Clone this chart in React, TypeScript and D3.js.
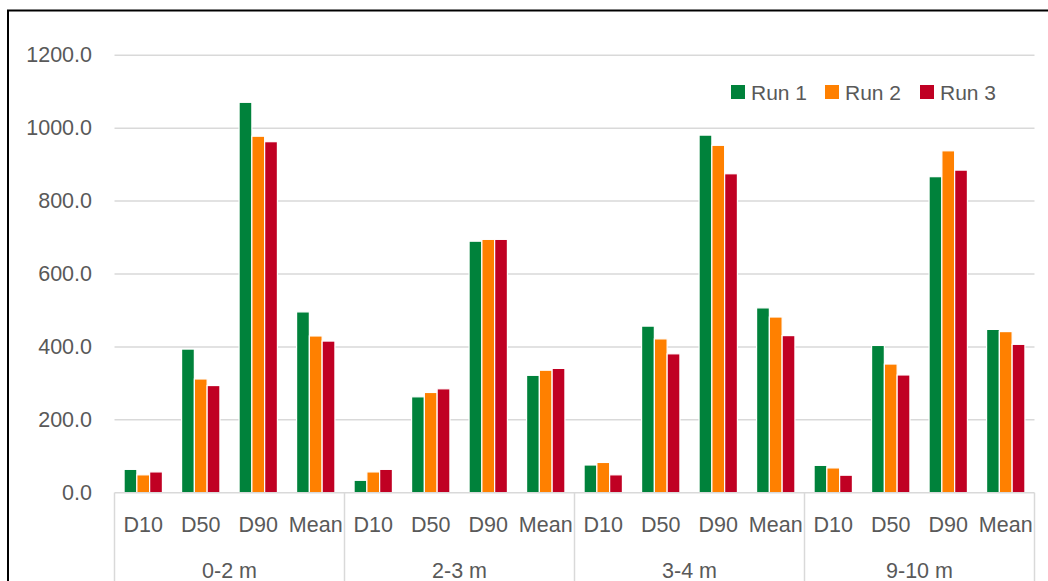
import React from "react";
import * as d3 from "d3";

// Particle size statistics per depth interval, three repeat runs
const depths = ["0-2 m", "2-3 m", "3-4 m", "9-10 m"];
const measures = ["D10", "D50", "D90", "Mean"];
const seriesNames = ["Run 1", "Run 2", "Run 3"];
const seriesColors = ["#00823b", "#ff8000", "#c00023"];

const run1 = [64, 394, 1071, 496, 34, 263, 690, 322, 76, 457, 981, 507, 75, 404, 867, 448];
const run2 = [49, 312, 978, 430, 57, 275, 695, 336, 83, 422, 953, 482, 68, 353, 938, 442];
const run3 = [57, 294, 963, 416, 64, 285, 695, 341, 49, 381, 875, 431, 48, 323, 885, 407];
const runs = [run1, run2, run3];

const yTicks = [0, 200, 400, 600, 800, 1000, 1200];

const W = 1048;
const H = 581;
const plotLeft = 114.5;
const plotRight = 1034.5;
const plotTop = 55.3;
const plotBottom = 492.7;
const FONT = "'Liberation Sans', Arial, sans-serif";
const TEXT = "#595959";
const GRID = "#d9d9d9";

export default function App() {
  const keys = depths.flatMap((d) => measures.map((m) => `${d}|${m}`));
  const x0 = d3.scaleBand<string>().domain(keys).range([plotLeft, plotRight]).padding(0);
  const x1 = d3
    .scaleBand<string>()
    .domain(seriesNames)
    .range([0, x0.bandwidth()])
    .paddingInner(0)
    .paddingOuter(0.75);
  const y = d3.scaleLinear().domain([0, 1200]).range([plotBottom, plotTop]);
  const groupScale = d3.scaleBand<string>().domain(depths).range([plotLeft, plotRight]).padding(0);

  const legendX = [731, 825, 920];

  return (
    <svg
      width={W}
      height={H}
      style={{ position: "absolute", left: 0, top: 0, display: "block", background: "#fff" }}
      fontFamily={FONT}
    >
      <rect x={0} y={0} width={W} height={H} fill="#fff" />
      {/* chart frame */}
      <path d={`M8,${H + 2} V10.5 H${W + 2}`} fill="none" stroke="#000" strokeWidth={2} />

      {/* gridlines */}
      {yTicks.slice(1).map((t) => (
        <line key={t} x1={plotLeft} x2={plotRight} y1={y(t)} y2={y(t)} stroke={GRID} strokeWidth={1.5} />
      ))}

      {/* y tick labels */}
      {yTicks.map((t) => (
        <text
          key={t}
          x={92}
          y={y(t)}
          textAnchor="end"
          dominantBaseline="central"
          fontSize={21.5}
          fill={TEXT}
        >
          {t.toFixed(1)}
        </text>
      ))}

      {/* bars */}
      {keys.map((k, i) => (
        <g key={k} transform={`translate(${x0(k)},0)`}>
          {runs.map((r, s) => (
            <rect
              key={s}
              x={x1(seriesNames[s])}
              y={y(r[i])}
              width={x1.bandwidth()}
              height={plotBottom - y(r[i])}
              fill={seriesColors[s]}
              stroke="#fff"
              strokeWidth={1.2}
            />
          ))}
        </g>
      ))}

      {/* category axis */}
      <line x1={plotLeft} x2={plotRight} y1={plotBottom} y2={plotBottom} stroke={GRID} strokeWidth={1.5} />
      {[...depths.map((d) => groupScale(d) as number), plotRight].map((gx, i) => (
        <line key={i} x1={gx} x2={gx} y1={plotBottom} y2={H + 2} stroke={GRID} strokeWidth={1.5} />
      ))}
      {keys.map((k) => (
        <text
          key={k}
          x={(x0(k) as number) + x0.bandwidth() / 2}
          y={525}
          textAnchor="middle"
          dominantBaseline="central"
          fontSize={21.5}
          fill={TEXT}
        >
          {k.split("|")[1]}
        </text>
      ))}
      {depths.map((d) => (
        <text
          key={d}
          x={(groupScale(d) as number) + groupScale.bandwidth() / 2}
          y={571}
          textAnchor="middle"
          dominantBaseline="central"
          fontSize={21.5}
          fill={TEXT}
        >
          {d}
        </text>
      ))}

      {/* legend */}
      {seriesNames.map((n, s) => (
        <g key={n}>
          <rect x={legendX[s]} y={85} width={14} height={14} fill={seriesColors[s]} />
          <text x={legendX[s] + 20} y={92} dominantBaseline="central" fontSize={21} fill={TEXT}>
            {n}
          </text>
        </g>
      ))}
    </svg>
  );
}
